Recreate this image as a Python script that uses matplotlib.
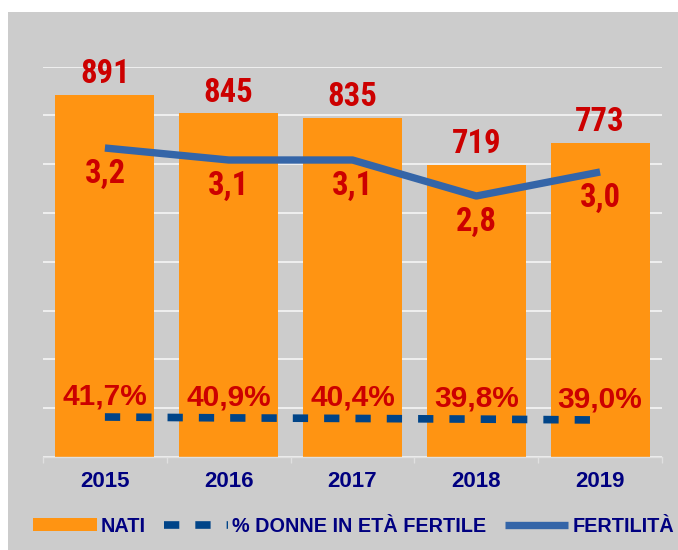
import matplotlib
matplotlib.use("Agg")
import matplotlib.pyplot as plt
from matplotlib import font_manager
from matplotlib.patches import Rectangle, Patch
from matplotlib.lines import Line2D

# ---- data ----
years = ["2015", "2016", "2017", "2018", "2019"]
nati = [891, 845, 835, 719, 773]
fertilita = [3.2, 3.1, 3.1, 2.8, 3.0]
fertilita_labels = ["3,2", "3,1", "3,1", "2,8", "3,0"]
donne_pct = [41.7, 40.9, 40.4, 39.8, 39.0]
donne_labels = ["41,7%", "40,9%", "40,4%", "39,8%", "39,0%"]
legend_labels = ["NATI", "% DONNE IN ETÀ FERTILE", "FERTILITÀ"]

# ---- fonts ----
def _w(v):
    if isinstance(v, (int, float)):
        return v
    return {"bold": 700, "heavy": 800, "black": 900, "semibold": 600, "demibold": 600,
            "extra bold": 800, "ultrabold": 800}.get(str(v).lower(), 400)

bold_names = {f.name for f in font_manager.fontManager.ttflist if 650 <= _w(f.weight) <= 760}
narrow = "Liberation Sans"
for cand in ["Liberation Sans Narrow", "Arial Narrow", "Roboto Condensed", "PT Sans Narrow",
             "Archivo Narrow", "Pragati Narrow", "Fira Sans Condensed", "IBM Plex Sans Condensed",
             "Encode Sans Condensed", "Asap Condensed", "Saira Condensed", "Barlow Semi Condensed"]:
    if cand in bold_names:
        narrow = cand
        break
regular = "Liberation Sans"

ORANGE = "#FF9412"
RED = "#CC0000"
NAVY = "#000080"
FERT = "#3465A8"
DASH = "#004488"
BG = "#CCCCCC"
GRID = "#F2F2F2"

W, H = 678, 550
fig = plt.figure(figsize=(W / 100, H / 100), dpi=100)
fig.patch.set_facecolor("white")
fig.patches.append(Rectangle((8 / W, 0), 1 - 8 / W, 1 - 12 / H, transform=fig.transFigure,
                             facecolor=BG, edgecolor="none", zorder=-10))

left, right, top, bottom = 43, 662, 66.7, 457
ax = fig.add_axes([left / W, 1 - bottom / H, (right - left) / W, (bottom - top) / H])
ax.set_facecolor("none")
x = list(range(len(years)))

ax.bar(x, nati, width=0.8, color=ORANGE, zorder=2)
ax.set_xlim(-0.5, len(years) - 0.5)
ax.set_ylim(0, 960)
ax.set_yticks(range(0, 961, 120))
ax.yaxis.grid(True, color=GRID, lw=1.3)
ax.set_axisbelow(True)

# fertility line (secondary axis)
ax2 = ax.twinx()
ax2.set_ylim(0.625, 0.625 + 390.3 / 120)
ax2.axis("off")
# % donne line (third axis)
ax3 = ax.twinx()
ax3.set_ylim(5.67, 5.67 + 390.3 / 1.11)
ax3.axis("off")

ax.tick_params(axis="y", which="both", left=False, right=False, labelleft=False, labelright=False)
for s in ["left", "right", "top"]:
    ax.spines[s].set_visible(False)
ax.spines["bottom"].set_color("#E0E0E0")
ax.spines["bottom"].set_linewidth(1.0)
ax.set_xticks(x)
ax.set_xticklabels(years, fontfamily=regular, fontweight="bold", fontsize=16, color=NAVY)
ax.tick_params(axis="x", which="major", length=0, pad=10)
ax.set_xticks([i - 0.5 for i in range(len(years) + 1)], minor=True)
ax.tick_params(axis="x", which="minor", length=4, color="#E0E0E0", width=1)

for xi, v in zip(x, nati):
    ax.annotate(str(v), (xi, v), xytext=(0, 8.3), textcoords="offset points",
                ha="center", va="baseline", fontfamily=narrow, fontweight="bold",
                fontsize=23.5, color=RED, zorder=5)

ax2.plot(x, fertilita, color=FERT, lw=5.3, solid_capstyle="butt", solid_joinstyle="round", zorder=3)
for xi, v, t in zip(x, fertilita, fertilita_labels):
    ax2.annotate(t, (xi, v), xytext=(0, -25), textcoords="offset points",
                 ha="center", va="baseline", fontfamily=narrow, fontweight="bold",
                 fontsize=23.5, color=RED, zorder=5)

ax3.plot(x, donne_pct, color=DASH, lw=5.5, dashes=(2.0, 2.1), dash_capstyle="butt", zorder=3)
for xi, v, t in zip(x, donne_pct, donne_labels):
    ax3.annotate(t, (xi, v), xytext=(0, 9.1), textcoords="offset points",
                 ha="center", va="baseline", fontfamily=regular, fontweight="bold",
                 fontsize=21.5, color=RED, zorder=5)

handles = [
    Patch(facecolor=ORANGE, edgecolor="none"),
    Line2D([], [], color=DASH, lw=5.5, dashes=(2.0, 2.1), dash_capstyle="butt"),
    Line2D([], [], color=FERT, lw=5.3, solid_capstyle="butt"),
]
fig.legend(handles, legend_labels, loc="center left", bbox_to_anchor=(33 / W, 1 - 526 / H),
           ncol=3, frameon=False, borderpad=0, borderaxespad=0, handlelength=3.2,
           handletextpad=0.2, columnspacing=0.95, handleheight=0.6,
           prop={"family": regular, "weight": "bold", "size": 14.3}, labelcolor=NAVY)

fig.savefig("out.png", dpi=100)
